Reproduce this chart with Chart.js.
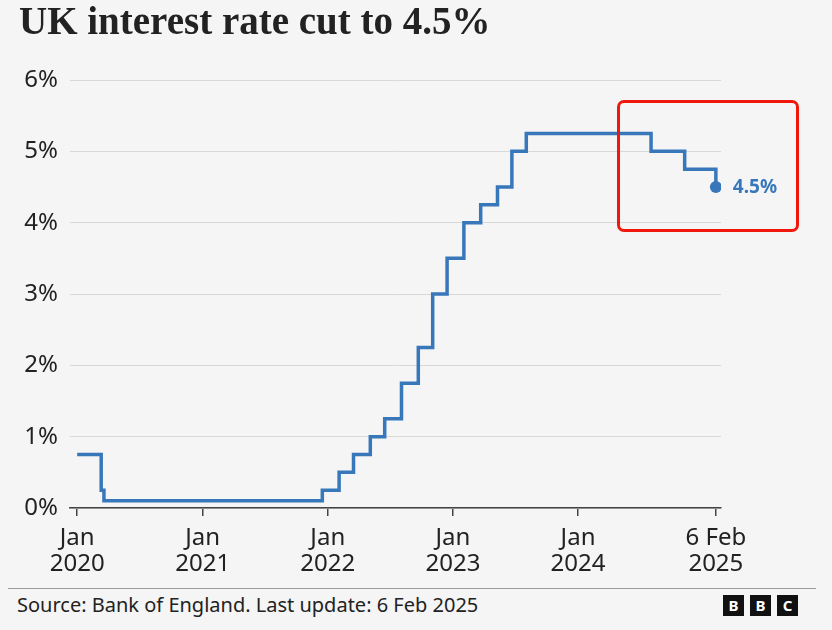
<!DOCTYPE html>
<html>
<head>
<meta charset="utf-8">
<script src="https://cdn.jsdelivr.net/npm/chart.js@4"></script>
<style>
    html, body { margin: 0; padding: 0; background: #f5f5f5; }
    body { width: 832px; height: 630px; position: relative; overflow: hidden; }
    #title {
        position: absolute; left: 19px; top: -2px;
        font: bold 39px "Liberation Serif", "DejaVu Serif", serif;
        color: #222; white-space: nowrap;
    }
    #chart-wrap { position: absolute; left: 0; top: 0; width: 832px; height: 590px; }
    #highlight {
        position: absolute; left: 617px; top: 100px; width: 176px; height: 126px;
        border: 3px solid #f0180c; border-radius: 7px;
    }
    #rule { position: absolute; left: 8px; top: 588px; width: 808px; height: 1px; background: #9a9a9a; }
    #source {
        position: absolute; left: 17px; top: 591px;
        font: 20px "Noto Sans", sans-serif; color: #222;
    }
    #logo { position: absolute; left: 723px; top: 595px; display: flex; gap: 6px; }
    #logo span {
        width: 21px; height: 21px; background: #111; color: #fff;
        font: bold 15px "Noto Sans", sans-serif; line-height: 21px; text-align: center;
    }
</style>
</head>
<body>
<div id="chart-wrap"><canvas id="rate-chart" width="832" height="590"></canvas></div>
<div id="title">UK interest rate cut to 4.5%</div>
<div id="highlight"></div>
<div id="rule"></div>
<div id="source">Source: Bank of England. Last update: 6 Feb 2025</div>
<div id="logo"><span>B</span><span>B</span><span>C</span></div>

<script>
/* ===== DATA ===== */
const rateDates = [
    '2020-01-01', '2020-03-11', '2020-03-19', '2021-12-16', '2022-02-03',
    '2022-03-17', '2022-05-05', '2022-06-16', '2022-08-04', '2022-09-22',
    '2022-11-03', '2022-12-15', '2023-02-02', '2023-03-23', '2023-05-11',
    '2023-06-22', '2023-08-03', '2024-08-01', '2024-11-07', '2025-02-06'
];
const rateValues = [
    0.75, 0.25, 0.1, 0.25, 0.5,
    0.75, 1.0, 1.25, 1.75, 2.25,
    3.0, 3.5, 4.0, 4.25, 4.5,
    5.0, 5.25, 5.0, 4.75, 4.5
];
const tickDates = ['2020-01-01', '2021-01-01', '2022-01-01', '2023-01-01', '2024-01-01', '2025-02-06'];
const tickLabels = [['Jan', '2020'], ['Jan', '2021'], ['Jan', '2022'], ['Jan', '2023'], ['Jan', '2024'], ['6 Feb', '2025']];
const yTicks = [0, 1, 2, 3, 4, 5, 6];

const lineColor = '#3878ba';
const day0 = Date.parse('2020-01-01');
const toDays = s => (Date.parse(s) - day0) / 86400000;

const points = rateDates.map((d, i) => ({ x: toDays(d), y: rateValues[i] }));
const tickPos = tickDates.map(toDays);
const lastIdx = points.length - 1;

// end label next to the final dot
const endLabel = {
    id: 'endLabel',
    afterDatasetsDraw(chart) {
        const pt = chart.getDatasetMeta(0).data[lastIdx];
        const ctx = chart.ctx;
        ctx.save();
        ctx.fillStyle = lineColor;
        ctx.font = 'bold 19px "Noto Sans", sans-serif';
        ctx.textBaseline = 'middle';
        ctx.fillText(rateValues[lastIdx] + '%', pt.x + 17, pt.y + 1);
        ctx.restore();
    }
};

new Chart(document.getElementById('rate-chart'), {
    type: 'line',
    data: {
        datasets: [{
            data: points,
            borderColor: lineColor,
            backgroundColor: lineColor,
            borderWidth: 3.5,
            stepped: 'before',
            pointRadius: ctx => ctx.dataIndex === lastIdx ? 6 : 0,
            pointHoverRadius: 0,
            pointBorderWidth: 0
        }]
    },
    options: {
        responsive: false,
        animation: false,
        layout: { padding: { top: 80, right: 111, left: 0, bottom: 0 } },
        plugins: { legend: { display: false }, tooltip: { enabled: false } },
        scales: {
            x: {
                type: 'linear',
                min: toDays('2019-12-11'),
                max: toDays('2025-02-21'),
                afterBuildTicks: scale => { scale.ticks = tickPos.map(v => ({ value: v })); },
                afterFit: scale => { scale.height = 82; },
                grid: { drawOnChartArea: false, drawTicks: true, tickLength: 8, color: '#444', lineWidth: 1.5 },
                border: { display: true, color: '#444', width: 1.5 },
                ticks: {
                    autoSkip: false,
                    maxRotation: 0,
                    padding: 9,
                    color: '#222',
                    font: { family: '"Noto Sans", sans-serif', size: 24, lineHeight: 1.1 },
                    callback: (v, i) => tickLabels[i]
                }
            },
            y: {
                min: 0,
                max: 6,
                afterBuildTicks: scale => { scale.ticks = yTicks.map(v => ({ value: v })); },
                afterFit: scale => { scale.width = 70; },
                grid: { drawTicks: false, color: '#d8d8d8', lineWidth: 1 },
                border: { display: false },
                ticks: {
                    padding: 12,
                    color: '#222',
                    font: { family: '"Noto Sans", sans-serif', size: 24 },
                    callback: v => v + '%'
                }
            }
        }
    },
    plugins: [endLabel]
});
</script>
</body>
</html>
